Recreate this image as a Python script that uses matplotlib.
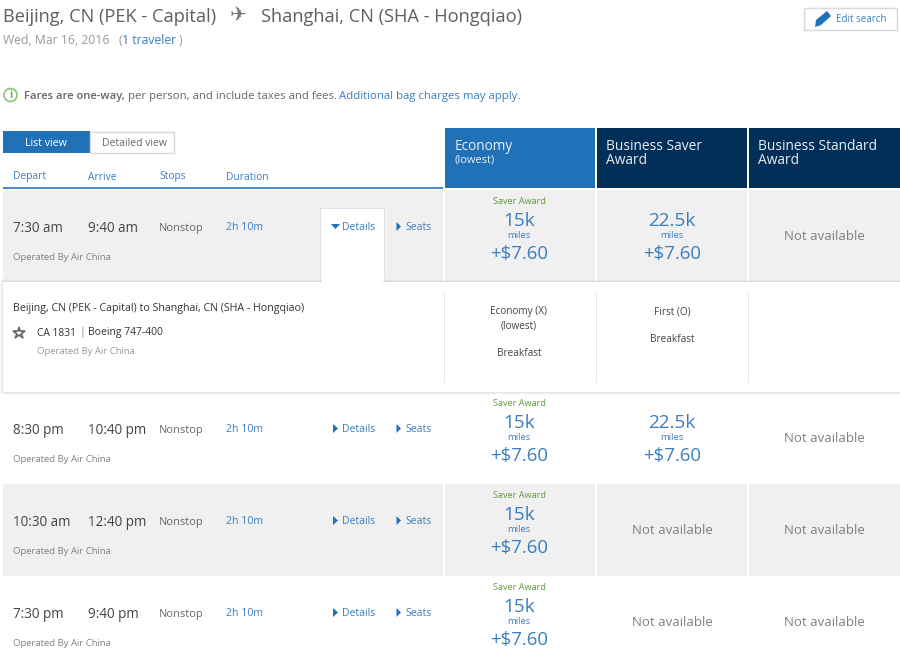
import matplotlib
matplotlib.use("Agg")
import matplotlib.pyplot as plt
from matplotlib.patches import Rectangle, Polygon

plt.rcParams['font.family'] = ['Open Sans', 'DejaVu Sans']

departs = ["7:30 am", "8:30 pm", "10:30 am", "7:30 pm"]
arrives = ["9:40 am", "10:40 pm", "12:40 pm", "9:40 pm"]
stops = ["Nonstop"] * 4
durations = ["2h 10m"] * 4
operators = ["Operated By Air China"] * 4
economy_miles = ["15k", "15k", "15k", "15k"]
economy_fees = ["+$7.60", "+$7.60", "+$7.60", "+$7.60"]
saver_miles = ["22.5k", "22.5k", None, None]
saver_fees = ["+$7.60", "+$7.60", None, None]
columns = ["Depart", "Arrive", "Stops", "Duration"]

# layout in pixels
ROW_TOPS = [190, 392, 484, 576]
ROW_H = 92
ROW_FILL = ["#f0f0f0", "#ffffff", "#f0f0f0", "#ffffff"]
CX = [519, 672, 824]
CELL_L = [445, 597, 749]
CELL_W = 150

BLUE = "#2171b9"
LINK = "#3b7dbf"
NAVY = "#022f57"
GREY = "#666666"
DARK = "#444444"

fig = plt.figure(figsize=(9, 6.66), dpi=100)
ax = fig.add_axes([0, 0, 1, 1])
ax.set_xlim(0, 900)
ax.set_ylim(666, 0)
ax.axis("off")

def T(x, y, s, size, color=GREY, ha="left", va="center", **kw):
    ax.text(x, y + 1, s, fontsize=size * 0.72, color=color, ha=ha, va=va, **kw)

def R(x, y, w, h, fc, ec="none", lw=0, z=1, **kw):
    ax.add_patch(Rectangle((x, y), w, h, facecolor=fc, edgecolor=ec, linewidth=lw, zorder=z, **kw))

# title block
T(3, 15.5, "Beijing, CN (PEK - Capital)", 18.25, "#5f5f5f")
ax.text(238, 15, "\u2708", fontsize=14.5, color="#777777", ha="center", va="center",
        family="DejaVu Sans")
T(261, 15.5, "Shanghai, CN (SHA - Hongqiao)", 18.25, "#5f5f5f")
T(3, 39.5, "Wed, Mar 16, 2016", 12.3, "#9a9a9a")
T(118.5, 39.5, "(", 12.3, "#9a9a9a")
T(122.5, 39.5, "1 traveler", 12.3, LINK)
T(178.5, 39.5, ")", 12.3, "#9a9a9a")

# edit search button
R(804, 7.5, 93, 22, "white", "#d8d8d8", 1)
ax.add_patch(Polygon([(815, 27), (816, 20), (827, 11), (831, 16), (821, 25)], facecolor=BLUE, edgecolor="none"))
T(836, 18, "Edit search", 9.8, LINK)

# notice line
ax.add_patch(plt.Circle((10.5, 95), 6.5, facecolor="white", edgecolor="#8cc47a", linewidth=1.2))
ax.text(10.5, 95, "i", fontsize=7.5, color="#6aa84f", ha="center", va="center", fontweight="bold")
T(24, 95.5, "Fares are one-way,", 11.25, GREY, fontweight="semibold")
T(128.5, 95.5, "per person, and include taxes and fees.", 11.35, GREY)
T(339, 95.5, "Additional bag charges may apply.", 11.4, LINK)

# view toggle
R(3, 131, 87, 22, BLUE)
R(90, 131.5, 84, 21, "white", "#d8d8d8", 1)
T(46, 142, "List view", 10.6, "white", ha="center")
T(134, 142, "Detailed view", 10.4, GREY, ha="center")

# column heads
for x, c in zip([13, 88, 159, 226], columns):
    T(x, 178.5, c, 10.2, LINK, va="baseline")
R(3, 186.5, 440, 2, "#4a8ccb")

# fare heads
R(CELL_L[0], 128, CELL_W, 60, BLUE)
R(CELL_L[1], 128, CELL_W, 60, NAVY)
R(CELL_L[2], 128, CELL_W + 1, 60, NAVY)
T(454.5, 145, "Economy", 13.6, "#e8f0f8")
T(454.5, 159.5, "(lowest)", 11, "#e8f0f8")
T(606, 145, "Business Saver", 13.7, "#e8eef4")
T(606, 160, "Award", 13.7, "#e8eef4")
T(758, 145, "Business Standard", 13.7, "#e8eef4")
T(758, 160, "Award", 13.7, "#e8eef4")

def fare(cx, top, miles, fee, saver=False):
    if saver:
        T(cx, top + 11, "Saver Award", 9.2, "#5d9a3c", ha="center")
    if miles is None:
        T(cx, top + 45.5, "Not available", 13.2, "#808080", ha="center")
        return
    T(cx, top + 29.5, miles, 19, LINK, ha="center")
    T(cx, top + 44, "miles", 9.5, LINK, ha="center")
    T(cx, top + 63.5, fee, 18.6, LINK, ha="center")

for i, top in enumerate(ROW_TOPS):
    if ROW_FILL[i] != "#ffffff":
        R(3, top, 440, ROW_H, ROW_FILL[i])
        for l in CELL_L:
            R(l, top, CELL_W + (1 if l == CELL_L[2] else 0), ROW_H, ROW_FILL[i])
    T(13, top + 37, departs[i], 13.5, DARK)
    T(88, top + 37, arrives[i], 13.5, DARK)
    T(159, top + 37, stops[i], 11, GREY, fontweight="medium")
    T(226, top + 37, durations[i], 10.5, LINK)
    T(13, top + 67, operators[i], 9.5, "#808080")
    if i == 0:
        R(320, 208, 65, 76, "#d8d8d8", z=2, alpha=0.6)
        R(321, 209, 63, 74, "white", z=2)
        ax.add_patch(Polygon([(331, top+34), (340, top+34), (335.5, top+39)], facecolor=BLUE, zorder=3))
    else:
        ax.add_patch(Polygon([(333, top+32), (338, top+36.5), (333, top+41)], facecolor=BLUE, zorder=3))
    T(342, top + 36, "Details", 10.5, LINK, zorder=3)
    ax.add_patch(Polygon([(396.5, top+32), (401, top+36.5), (396.5, top+41)], facecolor=BLUE, zorder=3))
    T(405.5, top + 36, "Seats", 10.5, LINK, zorder=3)
    fare(CX[0], top, economy_miles[i], economy_fees[i], saver=True)
    fare(CX[1], top, saver_miles[i], saver_fees[i])
    fare(CX[2], top, None, None)

# expanded detail panel with a soft shadow
for grow, a in [(3, 0.05), (2, 0.08), (1, 0.14)]:
    R(3 - grow, 282 - grow, 897 + 2 * grow, 110 + 2 * grow, "#999999", z=3, alpha=a)
R(3, 282, 897, 110, "white", z=4)
R(322, 276, 61, 8, "white", z=5)
for x in [444, 596, 748]:
    R(x, 292, 1, 91, "#e8e8e8", z=5)
T(13, 308, "Beijing, CN (PEK - Capital) to Shanghai, CN (SHA - Hongqiao)", 10.6, "#333333",
  fontweight="medium", zorder=6)
T(37, 332, "CA 1831", 10.2, "#333333", fontweight="medium", zorder=6)
T(80, 332, "|", 10.5, "#888888", zorder=6)
T(87.5, 332, "Boeing 747-400", 10.4, "#333333", zorder=6)
T(37, 351, "Operated By Air China", 9.5, "#999999", zorder=6)
ax.plot([19], [333], marker="*", markersize=9, markerfacecolor="white",
        markeredgecolor="#666666", markeredgewidth=1.2, zorder=6)
T(519, 310.5, "Economy (X)", 10, DARK, ha="center", zorder=6)
T(519, 324.5, "(lowest)", 10, DARK, ha="center", zorder=6)
T(519, 352, "Breakfast", 10, DARK, ha="center", zorder=6)
T(672, 310.5, "First (O)", 10, DARK, ha="center", zorder=6)
T(672, 338, "Breakfast", 10, DARK, ha="center", zorder=6)

fig.savefig("out.png", dpi=100)
